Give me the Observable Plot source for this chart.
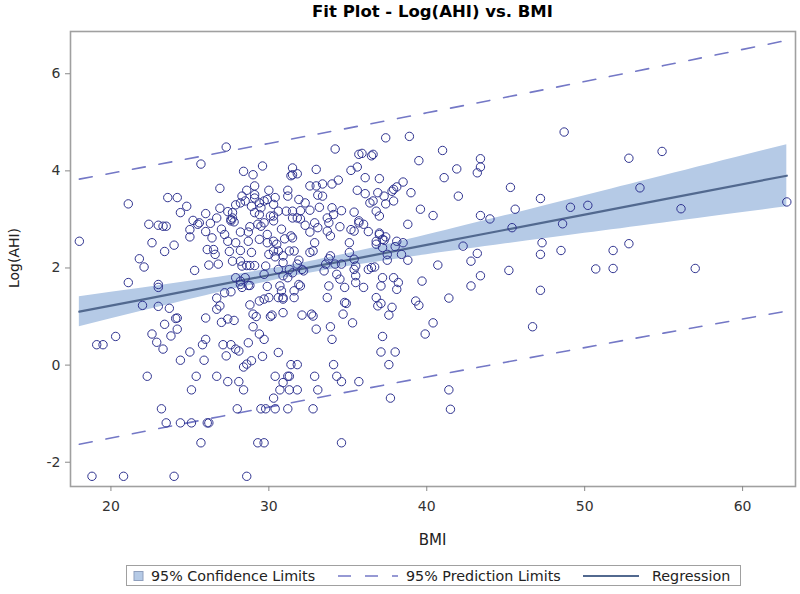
<!DOCTYPE html>
<html><head><meta charset="utf-8">
<script src="https://cdn.jsdelivr.net/npm/d3@7"></script>
<script src="https://cdn.jsdelivr.net/npm/@observablehq/plot@0.6"></script>
<style>
body{margin:0;background:#fff;font-family:"DejaVu Sans",sans-serif;}
#wrap{position:relative;width:800px;height:594px;overflow:hidden;}
#chart{position:absolute;left:0;top:0;}
#title{position:absolute;top:2px;left:0;width:865px;text-align:center;font-weight:bold;font-size:16.5px;color:#000;}
#ylab{position:absolute;left:14px;top:258px;transform:translate(-50%,-50%) rotate(-90deg);font-size:14px;color:#222;white-space:nowrap;}
#xlab{position:absolute;left:0;width:865px;top:531px;text-align:center;font-size:15px;color:#222;}
#legend{position:absolute;left:126px;top:565px;width:615px;height:21px;border:1px solid #a0a0a0;box-sizing:border-box;}
</style></head>
<body><div id="wrap">
<div id="chart"></div>
<div id="title">Fit Plot - Log(AHI) vs. BMI</div>
<div id="ylab">Log(AHI)</div>
<div id="xlab">BMI</div>
<svg id="legend" width="615" height="21"></svg>
</div>
<script>
// observed data (BMI, Log(AHI))
const bmi = [
48.7,37.4,38.9,27.3,34.2,41.0,54.9,52.8,35.7,35.9,36.5,36.6,43.4,43.4,43.2,39.5,25.7,29.6,31.5,33.0,
28.4,29.0,31.5,31.4,31.8,35.6,35.2,41.9,41.1,36.1,37.0,34.4,34.0,26.9,29.1,32.6,33.0,33.4,31.2,31.2,
38.5,38.1,37.9,37.8,35.6,36.1,39.0,45.3,42.0,53.5,47.2,23.6,24.2,21.1,24.8,24.4,28.3,28.5,28.2,29.1,
29.1,29.4,28.9,29.7,29.9,29.5,30.4,30.3,30.6,30.3,31.9,32.3,32.0,32.6,31.5,31.1,31.5,31.8,32.0,33.1,
33.2,33.4,34.0,34.1,34.6,33.7,33.8,33.7,33.9,35.4,35.7,35.7,36.4,36.6,36.8,37.0,37.3,37.4,37.9,39.6,
40.4,43.4,44.0,45.6,49.1,50.2,56.1,62.8,26.9,27.4,27.6,27.6,26.7,25.2,25.5,25.6,26.3,25.0,25.0,22.4,
23.0,23.3,23.5,22.6,23.4,24.0,21.8,22.1,18.0,21.1,23.0,23.0,22.0,23.0,23.7,24.2,24.1,23.4,24.2,22.6,
22.9,23.3,23.8,20.3,19.1,19.5,22.3,23.2,23.5,24.4,25.1,26.1,26.2,25.7,18.8,20.8,24.0,28.6,
26.4,26.1,26.5,26.6,25.3,26.2,26.8,27.2,27.4,27.5,27.9,28.2,28.2,28.7,28.7,28.9,28.2,28.3,27.7,28.6,
28.8,29.1,27.9,28.2,28.2,28.3,28.5,28.7,29.3,29.5,29.7,29.4,29.9,29.9,30.3,30.5,30.3,29.8,29.7,30.0,
30.4,30.6,30.9,30.9,31.4,31.5,31.3,31.6,30.6,30.9,31.2,31.3,31.5,31.8,31.9,32.1,31.9,32.0,32.6,32.8,
32.6,32.9,32.2,33.5,33.6,33.8,33.9,34.2,34.6,34.3,34.5,33.8,33.7,34.8,34.8,34.9,35.2,35.4,35.1,35.1,
35.4,35.5,35.4,35.5,35.5,36.0,36.3,36.8,36.8,37.0,37.0,37.2,37.3,37.4,37.2,37.5,37.5,36.3,36.5,36.7,
37.2,37.1,37.9,38.2,38.1,36.8,36.9,37.1,37.8,37.6,38.8,38.4,38.5,38.8,38.1,38.0,39.7,39.3,39.5,40.7,
40.4,39.9,41.4,42.3,42.8,43.2,42.8,43.4,45.4,45.2,47.3,47.2,47.2,46.7,48.6,48.5,50.7,51.8,51.8,52.8,57.0,
41.4,41.5,37.7,37.1,38.0,37.2,37.6,35.7,34.6,34.3,34.1,34.0,33.9,35.3,34.7,33.0,32.7,32.1,32.8,32.9,
33.1,32.8,34.6,31.4,31.8,30.4,31.2,31.3,30.9,30.7,31.3,31.8,30.3,29.5,29.8,30.4,31.2,28.0,29.3,29.7,
28.4,28.1,27.4,26.7,25.4,25.1,24.4,25.0,25.9,25.8,26.0,26.0,26.7,26.9,26.7,27.2,27.0,27.4,27.8,27.1,
27.6,27.3,27.9,28.1,28.7,28.4,28.6,28.9,29.6,30.6,29.0,29.2,29.0,29.4,29.7,28.8,29.4,29.7,30.0,30.1,
30.2,30.9,30.6,30.9,30.9,30.7,30.8,31.6,31.6,29.9,28.8,27.6,
27.7,27.7,29.1,29.4,30.1,30.3,32.9,33.1,26.0,27.0,27.8,28.8,30.8,31.0,32.3,34.5,36.0,36.9,30.0,28.6,27.9,26.0
];
const logAhi = [
4.80,4.68,4.71,4.49,4.45,4.42,4.40,4.26,4.34,4.36,4.31,4.34,4.25,4.08,3.96,4.21,4.14,4.10,4.06,4.03,
3.99,3.92,3.92,3.90,3.94,4.08,4.01,4.04,3.86,3.86,3.84,3.81,3.73,3.64,3.69,3.69,3.69,3.73,3.60,3.48,
3.77,3.67,3.62,3.58,3.60,3.53,3.55,3.66,3.48,3.65,3.43,3.45,3.45,3.32,3.27,3.14,3.48,3.38,3.34,3.51,
3.44,3.34,3.27,3.38,3.41,3.24,3.45,3.31,3.17,3.07,3.41,3.34,3.18,3.19,3.17,3.17,3.03,3.03,3.01,3.50,
3.25,3.48,3.24,3.10,3.18,3.03,2.93,2.76,2.66,3.15,2.97,2.93,3.34,3.38,3.17,3.07,3.48,3.32,3.38,3.21,
3.08,3.08,3.01,3.21,3.25,3.29,3.22,3.36,3.23,3.16,3.00,2.97,3.03,2.98,2.90,2.93,2.92,2.79,2.64,2.90,
2.88,2.86,2.86,2.52,2.34,2.47,2.19,2.02,2.55,1.70,1.66,1.60,1.23,1.21,1.17,0.97,0.96,0.84,0.74,0.64,
0.47,0.33,0.60,0.59,0.42,0.42,-0.23,-0.90,-1.19,-1.19,-1.19,-1.19,-1.19,-1.60,-2.29,-2.29,-2.29,-2.29,
2.62,2.38,2.38,2.28,1.95,2.06,2.08,2.69,2.55,2.34,2.52,2.74,2.36,2.74,2.55,2.32,2.14,2.04,2.14,2.05,
2.05,2.05,1.80,1.73,1.66,1.60,1.80,1.64,2.90,2.86,2.93,2.59,2.69,2.52,2.55,2.49,2.35,2.04,1.87,2.28,
2.23,2.35,2.25,2.11,2.66,2.62,2.35,2.35,1.97,1.84,1.80,1.97,1.90,2.08,2.16,1.97,1.66,1.63,2.32,2.35,
2.74,2.52,1.94,1.94,2.08,2.19,2.25,2.08,2.08,1.87,1.77,1.63,1.39,1.60,1.29,1.27,2.79,2.76,2.52,2.32,
2.18,2.04,1.97,1.84,1.70,1.60,2.75,2.55,2.49,2.72,2.69,2.59,2.57,2.64,2.42,2.16,2.28,1.97,2.01,2.02,
1.80,1.63,1.80,1.70,1.56,1.39,1.22,1.27,1.19,1.03,2.16,2.28,2.52,2.90,2.55,2.44,1.73,1.32,1.23,2.06,
0.87,0.64,1.38,2.45,2.14,2.30,1.63,1.84,2.83,1.95,2.52,2.28,1.54,0.79,2.91,2.36,1.98,1.99,2.36,2.50,1.99,
-0.51,-0.91,-0.68,0.27,0.27,0.59,0.01,-0.34,-0.34,-0.23,0.01,0.53,0.79,0.87,1.05,0.74,1.05,1.03,1.01,-0.23,
-0.51,-0.90,-1.60,0.01,0.01,-0.23,-0.23,-0.23,-0.36,-0.51,-0.51,-0.51,-0.68,-0.90,-0.90,-0.90,-0.90,-0.90,-1.60,-1.60,
-0.51,-0.34,-0.34,-0.23,-0.23,-0.51,0.10,0.27,0.10,0.42,0.53,0.97,1.15,1.22,1.38,1.49,0.88,0.95,0.92,0.42,
0.42,0.19,0.33,0.29,0.46,-0.04,0.02,0.09,0.18,0.26,1.05,1.00,0.79,0.64,0.53,1.24,1.32,1.36,1.39,1.00,
1.03,1.08,1.39,1.39,1.36,1.63,1.53,1.53,1.39,1.62,1.64,1.51,
3.14,3.03,3.14,3.10,3.07,2.97,2.93,2.83,2.75,2.80,2.95,2.85,2.80,2.60,2.88,2.85,2.90,3.55,3.60,3.60,3.30,3.12
];
// fitted regression and limits, read at these BMI values
const bandBmi   = [18, 22, 26, 30, 33, 36, 40, 45, 50, 55, 62.8];
const fitVal    = [1.100, 1.350, 1.600, 1.850, 2.038, 2.225, 2.475, 2.788, 3.100, 3.413, 3.900];
const clLower   = [0.790, 1.113, 1.429, 1.723, 1.916, 2.080, 2.272, 2.497, 2.713, 2.928, 3.260];
const clUpper   = [1.410, 1.587, 1.771, 1.977, 2.160, 2.370, 2.678, 3.079, 3.487, 3.898, 4.540];
const plLower   = [-1.630, -1.372, -1.117, -0.865, -0.677, -0.491, -0.245, 0.060, 0.360, 0.658, 1.113];
const plUpper   = [3.830, 4.072, 4.317, 4.565, 4.753, 4.941, 5.195, 5.516, 5.840, 6.168, 6.687];
const xTicks = [20, 30, 40, 50, 60];
const yTicks = [-2, 0, 2, 4, 6];

const pts = bmi.map((b, i) => ({bmi: b, y: logAhi[i]}));
const band = bandBmi.map((b, i) => ({bmi: b, fit: fitVal[i], lo: clLower[i], hi: clUpper[i], plo: plLower[i], phi: plUpper[i]}));

const C_BAND = "#b5cae6", C_FIT = "#52698f", C_PRED = "#7478c6", C_DOT = "#2f3390";

const plot = Plot.plot({
  width: 800, height: 556,
  marginLeft: 70, marginRight: 5, marginTop: 31, marginBottom: 70,
  style: {fontFamily: "DejaVu Sans, sans-serif", fontSize: "13px", color: "#333", background: "#fff"},
  x: {domain: [17.44, 63.35]},
  y: {domain: [-2.5, 6.87]},
  marks: [
    Plot.areaY(band, {x: "bmi", y1: "lo", y2: "hi", fill: C_BAND, curve: "natural"}),
    Plot.line(band, {x: "bmi", y: "fit", stroke: C_FIT, strokeWidth: 2.2}),
    Plot.line(band, {x: "bmi", y: "phi", stroke: C_PRED, strokeWidth: 1.6, strokeDasharray: "13,14", curve: "natural"}),
    Plot.line(band, {x: "bmi", y: "plo", stroke: C_PRED, strokeWidth: 1.6, strokeDasharray: "13,14", curve: "natural"}),
    Plot.dot(pts, {x: "bmi", y: "y", r: 4.2, stroke: C_DOT, strokeWidth: 1, fill: "none"}),
    Plot.frame({stroke: "#a0a0a0", strokeWidth: 1.6}),
    Plot.axisX({ticks: xTicks, tickSize: 5, tickPadding: 10, label: null, fontSize: 14, stroke: "#888", tickFormat: d => `${d}`}),
    Plot.axisY({ticks: yTicks, tickSize: 5, tickPadding: 5, label: null, fontSize: 14, stroke: "#888", tickFormat: d => `${d}`})
  ]
});
document.getElementById("chart").appendChild(plot);

// legend
const lg = d3.select("#legend");
const items = [
  {kind: "box", x: 7, tx: 24, label: "95% Confidence Limits"},
  {kind: "dash", x: 211, tx: 279, label: "95% Prediction Limits"},
  {kind: "line", x: 456, tx: 525, label: "Regression"}
];
items.forEach(it => {
  if (it.kind === "box") {
    lg.append("rect").attr("x", it.x).attr("y", 5.5).attr("width", 9).attr("height", 9)
      .attr("fill", C_BAND).attr("stroke", "#8f9fbd").attr("stroke-width", 1);
  } else if (it.kind === "dash") {
    lg.append("line").attr("x1", it.x).attr("x2", it.x + 60).attr("y1", 10).attr("y2", 10)
      .attr("stroke", C_PRED).attr("stroke-width", 1.6).attr("stroke-dasharray", "13,14");
  } else {
    lg.append("line").attr("x1", it.x).attr("x2", it.x + 56).attr("y1", 10).attr("y2", 10)
      .attr("stroke", C_FIT).attr("stroke-width", 2.2);
  }
  lg.append("text").attr("x", it.tx).attr("y", 15).attr("font-size", 14.3)
    .attr("font-family", "DejaVu Sans, sans-serif").attr("fill", "#222").text(it.label);
});
</script>
</body></html>
